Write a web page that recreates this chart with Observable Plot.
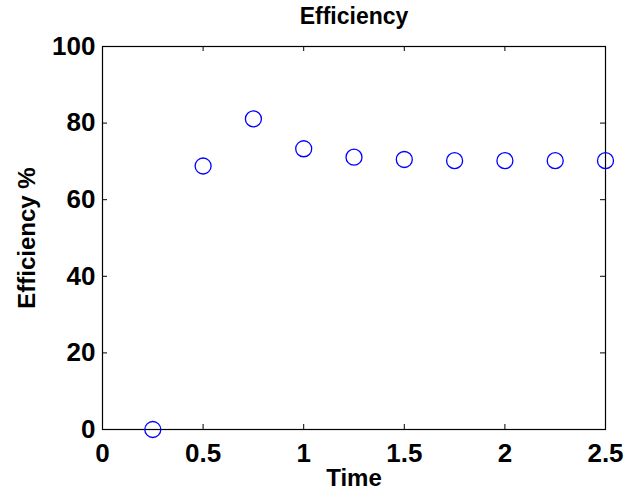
<!DOCTYPE html>
<html><head><meta charset="utf-8">
<script src="https://cdn.jsdelivr.net/npm/d3@7"></script>
<script src="https://cdn.jsdelivr.net/npm/@observablehq/plot@0.6"></script>
<style>body{margin:0;background:#fff}</style>
</head><body><div id="chart"></div>
<script>
const time = [0.25, 0.5, 0.75, 1.0, 1.25, 1.5, 1.75, 2.0, 2.25, 2.5];
const efficiency = [0, 68.8, 81.1, 73.3, 71.1, 70.5, 70.2, 70.2, 70.2, 70.2];
const xTicks = [0, 0.5, 1, 1.5, 2, 2.5];
const yTicks = [0, 20, 40, 60, 80, 100];
const title = "Efficiency", xLabel = "Time", yLabel = "Efficiency %";

const data = time.map((t, i) => ({time: t, efficiency: efficiency[i]}));
const W = 626, H = 494, mL = 102, mR = 21, mT = 46, mB = 65;
const plotW = W - mL - mR, plotH = H - mT - mB, tickLen = 5;
const font = "'Liberation Sans', Arial, Helvetica, sans-serif";

const chart = Plot.plot({
  width: W, height: H,
  marginLeft: mL, marginRight: mR, marginTop: mT, marginBottom: mB,
  style: {fontFamily: font, fontSize: "24px", fontWeight: "bold", background: "#fff", color: "#000", overflow: "visible"},
  x: {domain: [0, 2.5]},
  y: {domain: [0, 100]},
  marks: [
    Plot.axisX({ticks: xTicks, tickSize: 0, tickPadding: 14, tickFormat: d => String(d), label: null, fontSize: 26, fontWeight: "bold"}),
    Plot.axisY({ticks: yTicks, tickSize: 0, tickPadding: 7, tickFormat: d => String(d), label: null, fontSize: 26, fontWeight: "bold"}),
    Plot.tickX(xTicks, {x: d => d, insetTop: plotH - tickLen, stroke: "#000", strokeWidth: 1}),
    Plot.tickX(xTicks, {x: d => d, insetBottom: plotH - tickLen, stroke: "#000", strokeWidth: 1}),
    Plot.tickY(yTicks, {y: d => d, insetRight: plotW - tickLen, stroke: "#000", strokeWidth: 1}),
    Plot.tickY(yTicks, {y: d => d, insetLeft: plotW - tickLen, stroke: "#000", strokeWidth: 1}),
    Plot.frame({stroke: "#000", strokeWidth: 1.2}),
    Plot.dot(data, {x: "time", y: "efficiency", r: 8, stroke: "#0000ff", strokeWidth: 1.3, fill: "none", clip: false}),
    Plot.text([title], {text: d => d, frameAnchor: "top", dy: -30, lineAnchor: "middle", fontSize: 23, fontWeight: "bold"}),
    Plot.text([xLabel], {text: d => d, frameAnchor: "bottom", dy: 49, lineAnchor: "middle", fontSize: 24, fontWeight: "bold"}),
    Plot.text([yLabel], {text: d => d, frameAnchor: "left", dx: -75, rotate: -90, textAnchor: "middle", lineAnchor: "middle", fontSize: 24, fontWeight: "bold"})
  ]
});
document.getElementById("chart").appendChild(chart);
</script>
</body></html>
